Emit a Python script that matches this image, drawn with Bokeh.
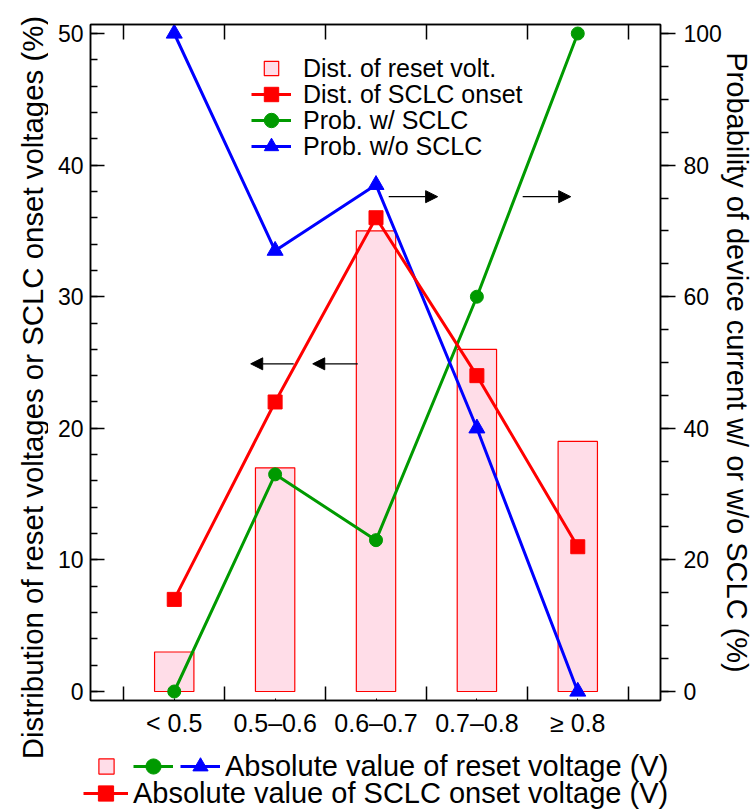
import math
from bokeh.plotting import figure
from bokeh.layouts import row, column
from bokeh.models import (Range1d, LinearAxis, FixedTicker, SingleIntervalTicker,
                          Legend, LegendItem, Arrow, NormalHead, Label)
from bokeh.embed import file_html
from bokeh.resources import INLINE

# ---------------- data ----------------
categories = ["< 0.5", "0.5–0.6", "0.6–0.7", "0.7–0.8", "≥ 0.8"]
reset_dist = [3, 17, 35, 26, 19]          # Dist. of reset volt. (%)  left axis
sclc_dist = [7, 22, 36, 24, 11]           # Dist. of SCLC onset (%)   left axis
prob_with = [0, 33, 23, 60, 100]          # Prob. w/ SCLC (%)         right axis
prob_without = [100, 67, 77, 40, 0]       # Prob. w/o SCLC (%)        right axis

# arrows: (x_tail, x_head, y) in left-axis data units (x = category index)
arrows = [(1.184, 0.758, 24.9), (1.819, 1.373, 24.9),
          (2.126, 2.611, 37.6), (3.454, 3.930, 37.6)]

xpos = list(range(len(categories)))
boundaries = [i - 0.5 for i in range(len(categories) + 1)]

FONT = "Liberation Sans"
RED = "#ff0000"
GREEN = "#009a00"
BLUE = "#0000ff"
PINK = "#ffdde8"
NAN = [float("nan")]

# ---------------- main plot ----------------
p = figure(frame_width=570, frame_height=676,
           min_border_left=42, min_border_right=96,
           min_border_top=24, min_border_bottom=45,
           x_range=Range1d(-0.83, 4.82), y_range=Range1d(-0.684, 50.684),
           output_backend="svg", toolbar_location=None)
p.extra_y_ranges = {"prob": Range1d(-1.368, 101.368)}
p.grid.visible = False
p.outline_line_color = "black"
p.outline_line_width = 1.5
p.background_fill_color = "white"
p.border_fill_color = "white"

bars = p.vbar(x=xpos, top=reset_dist, bottom=0, width=0.39,
              fill_color=PINK, line_color=RED, line_width=1.2)

green_line = p.line(xpos, prob_with, y_range_name="prob", line_color=GREEN, line_width=3)
green_pts = p.scatter(xpos, prob_with, y_range_name="prob", marker="circle", size=13,
                      fill_color=GREEN, line_color=GREEN)
blue_line = p.line(xpos, prob_without, y_range_name="prob", line_color=BLUE, line_width=3)
blue_pts = p.scatter(xpos, prob_without, y_range_name="prob", marker="triangle", size=16,
                     fill_color=BLUE, line_color=BLUE)
red_line = p.line(xpos, sclc_dist, line_color=RED, line_width=3)
red_pts = p.scatter(xpos, sclc_dist, marker="square", size=14,
                    fill_color=RED, line_color=RED)

# legend key for the bars (nothing drawn in the plot)
bar_key = p.scatter(x=NAN, y=NAN, marker="square", size=15,
                    fill_color=PINK, line_color=RED, line_width=1.2)

for xs, xe, y in arrows:
    p.add_layout(Arrow(end=NormalHead(size=12, fill_color="black", line_color="black", line_width=1),
                       x_start=xs, y_start=y, x_end=xe, y_end=y,
                       line_color="black", line_width=1.2))

xa = p.xaxis[0]
xa.ticker = FixedTicker(ticks=xpos, minor_ticks=boundaries)
xa.major_label_overrides = {i: c for i, c in enumerate(categories)}
xa.major_tick_in = 2
xa.major_tick_out = 0
xa.minor_tick_in = 14
xa.minor_tick_out = 0
xa.major_label_standoff = 8
xa.major_label_text_font = FONT
xa.major_label_text_font_size = "25px"
xa.major_label_text_color = "black"
xa.axis_line_width = 1.5
xa.minor_tick_line_width = 1.5
xa.major_tick_line_width = 1

ta = LinearAxis(ticker=FixedTicker(ticks=[], minor_ticks=boundaries),
                major_tick_in=0, major_tick_out=0, minor_tick_in=15, minor_tick_out=0,
                axis_line_width=1.5, minor_tick_line_width=1.5)
p.add_layout(ta, "above")

ya = p.yaxis[0]
ya.ticker = SingleIntervalTicker(interval=10, num_minor_ticks=5)
ya.major_tick_in = 14
ya.major_tick_out = 0
ya.minor_tick_in = 7
ya.minor_tick_out = 0
ya.major_label_standoff = 7
ya.major_label_text_font = FONT
ya.major_label_text_font_size = "23px"
ya.major_label_text_color = "black"
ya.axis_line_width = 1.5
ya.major_tick_line_width = 1.5
ya.minor_tick_line_width = 1.5

ra = LinearAxis(y_range_name="prob",
                ticker=SingleIntervalTicker(interval=20, num_minor_ticks=4),
                axis_label="Probability of device current w/ or w/o SCLC (%)",
                axis_label_text_font=FONT, axis_label_text_font_size="29px",
                axis_label_text_font_style="normal", axis_label_text_color="black",
                axis_label_standoff=-4,
                major_tick_in=0, major_tick_out=15, minor_tick_in=0, minor_tick_out=8,
                major_label_standoff=8, major_label_text_font=FONT,
                major_label_text_font_size="23px", major_label_text_color="black",
                axis_line_width=1.5, major_tick_line_width=1.5, minor_tick_line_width=1.5)
p.add_layout(ra, "right")


def styled(leg, size):
    leg.padding = 0
    leg.margin = 0
    leg.border_line_color = None
    leg.background_fill_alpha = 0
    leg.label_text_font = FONT
    leg.label_text_font_size = size
    leg.label_text_color = "black"
    return leg


# one legend per row (rows 26 px apart, centred at frame-relative offsets)
top_items = [("Dist. of reset volt.", [bar_key], 614),
             ("Dist. of SCLC onset", [red_line, red_pts], 588),
             ("Prob. w/ SCLC", [green_line, green_pts], 562),
             ("Prob. w/o SCLC", [blue_line, blue_pts], 536)]
for lab, rends, yoff in top_items:
    p.add_layout(styled(Legend(items=[LegendItem(label=lab, renderers=rends)],
                               location=(161, yoff), glyph_width=40, glyph_height=36,
                               label_height=36, label_standoff=12), "25px"))

# ---------------- left label strip ----------------
lf = figure(frame_width=48, frame_height=810, min_border=0,
            x_range=Range1d(0, 48), y_range=Range1d(0, 810),
            x_axis_type=None, y_axis_type=None,
            output_backend="svg", toolbar_location=None)
lf.grid.visible = False
lf.outline_line_color = None
lf.add_layout(Label(x=32, y=423, angle=math.pi / 2,
                    text="Distribution of reset voltages or SCLC onset voltages (%)",
                    text_align="center", text_baseline="alphabetic",
                    text_font=FONT, text_font_size="29.4px", text_color="black"))

# ---------------- bottom key strip (x-axis title) ----------------
bf = figure(frame_width=708, frame_height=65, min_border=0,
            x_range=Range1d(0, 708), y_range=Range1d(0, 65),
            x_axis_type=None, y_axis_type=None,
            output_backend="svg", toolbar_location=None)
bf.grid.visible = False
bf.outline_line_color = None

k_bar = bf.scatter(x=NAN, y=NAN, marker="square", size=15,
                   fill_color=PINK, line_color=RED, line_width=1.2)
k_gl = bf.line(x=NAN, y=NAN, line_color=GREEN, line_width=3)
k_gp = bf.scatter(x=NAN, y=NAN, marker="circle", size=13, fill_color=GREEN, line_color=GREEN)
k_bl = bf.line(x=NAN, y=NAN, line_color=BLUE, line_width=3)
k_bp = bf.scatter(x=NAN, y=NAN, marker="triangle", size=16, fill_color=BLUE, line_color=BLUE)
k_rl = bf.line(x=NAN, y=NAN, line_color=RED, line_width=3)
k_rp = bf.scatter(x=NAN, y=NAN, marker="square", size=14, fill_color=RED, line_color=RED)

row1 = styled(Legend(items=[
    LegendItem(label="", renderers=[k_bar]),
    LegendItem(label="", renderers=[k_gl, k_gp]),
    LegendItem(label="Absolute value of reset voltage (V)", renderers=[k_bl, k_bp]),
], orientation="horizontal", location=(38, 25), glyph_width=40, glyph_height=38,
   label_height=38, label_width=0, label_standoff=5, spacing=2), "29px")
bf.add_layout(row1)

row2 = styled(Legend(items=[
    LegendItem(label="Absolute value of SCLC onset voltage (V)", renderers=[k_rl, k_rp]),
], orientation="horizontal", location=(35, -2), glyph_width=45, glyph_height=38,
   label_height=38, label_width=0, label_standoff=5, spacing=2), "29px")
bf.add_layout(row2)

layout = row(lf, column(p, bf, spacing=0), spacing=0)

open("out.html", "w").write(file_html(layout, INLINE))
